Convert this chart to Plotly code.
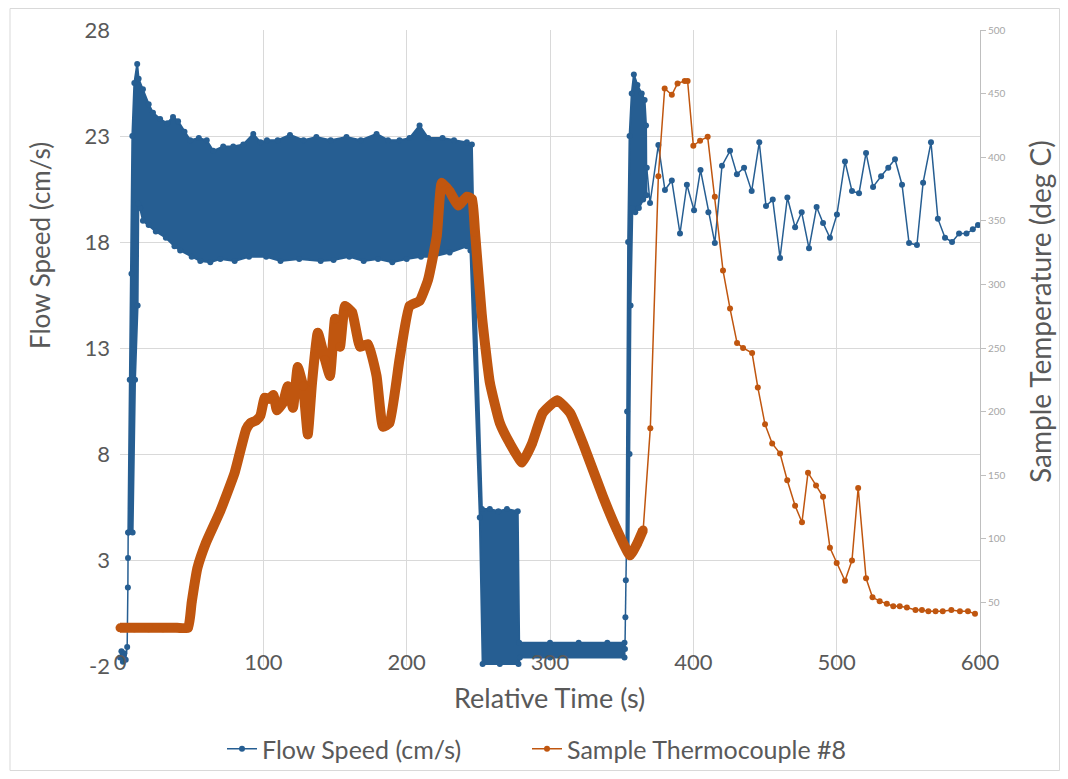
import plotly.graph_objects as go

BLUE = "#265E92"
ORANGE = "#C0560F"
GRID = "#d9d9d9"
TXT = "#595959"
FONT = "Lato"

# ---------------- Flow speed (cm/s), left axis ----------------
# sparse points at the very start (before the flow turns on)
flow_start_t = [0, 1, 2, 3, 4, 5, 5.5, 5.6, 5.7]
flow_start_v = [-1.6, -1.3, -1.8, -1.4, -1.7, -1.1, 1.7, 3.1, 4.3]

# dense oscillating region 6-352 s: upper envelope (left to right)
dense_top_t = [5.8, 6.8, 8.0, 8.6, 10, 12, 13, 16, 20, 23, 28, 33, 37, 40.5, 45, 49, 55,
               60.5, 65, 72, 79, 86, 93, 98, 102.5, 110, 118.6, 128, 137, 147, 158, 168,
               179, 187, 195, 202, 209, 215, 225, 233, 242, 245.5, 247, 252.5, 258, 264,
               270, 277.5, 278.5, 300, 320, 340, 352]
dense_top_v = [4.3, 11.5, 16.5, 23, 25.5, 26.4, 25.7, 25.2, 24.5, 24.1, 23.8, 23.6, 23.9,
               23.7, 23.2, 22.8, 22.9, 22.8, 22.3, 22.5, 22.5, 22.6, 23.1, 22.7, 22.8, 22.8,
               23.05, 22.8, 22.95, 22.8, 22.95, 22.8, 23.1, 22.8, 22.8, 22.9, 23.5, 22.9,
               22.9, 22.8, 22.7, 22.6, 17.6, 5.4, 5.4, 5.3, 5.4, 5.3, -0.9, -0.9, -0.9,
               -0.9, -0.9]
# dense region: lower envelope (right to left)
dense_bot_t = [352, 300, 279, 278, 265, 253, 251, 244.5, 242, 230, 218, 210, 200, 190,
               180, 170, 160, 149, 140, 125, 112, 102, 90, 80, 70, 63, 56, 50, 42, 38, 32,
               25, 20, 16, 14, 12.8, 12.3, 10.5, 8.8]
dense_bot_v = [-1.6, -1.6, -1.6, -1.9, -1.9, -1.9, 5.0, 17.6, 17.8, 17.5, 17.3, 17.3,
               17.2, 17.05, 17.2, 17.1, 17.3, 17.15, 17.1, 17.2, 17.1, 17.3, 17.3, 17.1,
               17.2, 17.05, 17.1, 17.3, 17.6, 17.8, 18.2, 18.5, 18.8, 19.0, 19.6, 19.8,
               15, 11.5, 4.3]

# isolated points while the flow restarts
flow_mid_t = [352.3, 352.6, 352.9, 353.3]
flow_mid_v = [-1.2, 0.3, 2.05, 3.5]

# dense burst when the flow restarts (353-368 s)
col_top_t = [353.3, 353.8, 354.5, 355.5, 357, 358.5, 361, 364, 366, 367]
col_top_v = [3.5, 10, 18, 23, 25.0, 25.9, 25.4, 25.0, 24.7, 23.5]
col_bot_t = [367.3, 365, 362, 359.5, 357.5, 356.2, 355.5, 354.8]
col_bot_v = [20.2, 20.0, 19.6, 19.4, 19.6, 15, 8, 3.5]

# sparse samples after 368 s
flow_end_t = [367.5, 369.8, 375.6, 380.2, 385, 390.7, 395.5, 400.5, 405, 410.5, 415, 420,
              425.6, 430.4, 435.4, 440.7, 446, 450.7, 455.4, 460.5, 465.6, 471, 475.6,
              480.7, 486, 490.5, 495.3, 500.2, 505.8, 510.7, 515.6, 520.5, 525.4, 531,
              536, 540.7, 545.6, 550.5, 556, 560.3, 565.8, 570.6, 575.6, 580.5, 585.4,
              590.6, 595, 598.6]
flow_end_v = [21.5, 19.84, 22.58, 20.45, 20.9, 18.4, 20.7, 19.5, 21.4, 19.4, 17.95, 21.6,
              22.3, 21.2, 21.5, 20.4, 22.7, 19.7, 20.0, 17.25, 20.1, 18.7, 19.4, 17.7,
              19.65, 18.9, 18.2, 19.3, 21.8, 20.4, 20.3, 22.2, 20.6, 21.1, 21.5, 21.9,
              20.7, 17.95, 17.86, 20.8, 22.7, 19.1, 18.2, 18.0, 18.4, 18.4, 18.6, 18.8]

# ---------------- Sample thermocouple #8 (deg C), right axis ----------------
temp_dense_t = [0, 10, 20, 30, 40, 47.5, 50, 54, 60, 70, 80, 88, 91, 95, 98, 101, 104,
                107, 109.5, 113.7, 117, 120.7, 124, 127.7, 131, 134, 138, 143, 146.5, 150,
                153.5, 157, 162, 167.5, 173, 179, 183.5, 188, 195, 202, 209, 215, 221,
                224.5, 230, 236, 242, 245.6, 247.7, 252.5, 258, 265, 272, 280.5, 287.5,
                295, 305, 314, 323, 337, 346.7, 355.8, 360.7, 365]
temp_dense_v = [30, 30, 30, 30, 30, 30, 50, 77, 97, 122, 152, 186, 191, 193, 197, 211, 210,
                213, 201, 207, 220, 203, 235, 220, 182, 223, 262, 241, 228, 273, 251, 283,
                278, 251, 253, 228, 188, 191, 241, 283, 287, 304, 338, 380, 373, 362, 369,
                367, 341, 275, 223, 191, 175, 160, 175, 199, 209, 199, 175, 133, 107, 87,
                96, 107]

temp_sparse_t = [365, 370, 375.6, 380, 385, 389, 394, 396, 400, 404.7, 410, 415, 420.7,
                 425.6, 430.5, 434.7, 441, 445, 450, 455, 460.5, 465.5, 471, 475.8, 480,
                 485.6, 490.5, 495.3, 500, 505.8, 510.7, 515, 520.5, 525, 530, 535, 539.5,
                 544, 549, 555, 559.5, 564, 569, 574, 580, 586, 591.6, 596.5]
temp_sparse_v = [107, 187, 385, 454, 449, 458, 460, 460, 409, 413, 416, 369, 311, 281, 254,
                 250, 246, 219, 190, 175, 167, 146, 126, 113, 152, 142, 133, 93, 81, 67, 83,
                 140, 69, 54, 51, 49, 47, 47, 46, 44, 44, 43, 43, 43, 44, 43, 43, 41]

left_ticks = [-2, 3, 8, 13, 18, 23, 28]
right_ticks = [50, 100, 150, 200, 250, 300, 350, 400, 450, 500]
x_ticks = [0, 100, 200, 300, 400, 500, 600]

fig = go.Figure()

# dense flow band
fig.add_trace(go.Scatter(
    x=dense_top_t + dense_bot_t, y=dense_top_v + dense_bot_v,
    mode="lines+markers", fill="toself", fillcolor=BLUE,
    line=dict(color=BLUE, width=2), marker=dict(color=BLUE, size=6),
    showlegend=False, hoverinfo="skip", cliponaxis=False))
fig.add_trace(go.Scatter(
    x=col_top_t + col_bot_t, y=col_top_v + col_bot_v,
    mode="lines+markers", fill="toself", fillcolor=BLUE,
    line=dict(color=BLUE, width=2), marker=dict(color=BLUE, size=6),
    showlegend=False, hoverinfo="skip"))
fig.add_trace(go.Scatter(
    x=flow_start_t, y=flow_start_v, mode="lines+markers",
    line=dict(color=BLUE, width=1.5), marker=dict(color=BLUE, size=6),
    showlegend=False, cliponaxis=False))
fig.add_trace(go.Scatter(
    x=flow_mid_t, y=flow_mid_v, mode="lines+markers",
    line=dict(color=BLUE, width=1.5), marker=dict(color=BLUE, size=6),
    showlegend=False))
fig.add_trace(go.Scatter(
    x=flow_end_t, y=flow_end_v, mode="lines+markers", name="Flow Speed (cm/s)",
    line=dict(color=BLUE, width=1.5), marker=dict(color=BLUE, size=6),
    legend="legend"))

# temperature
fig.add_trace(go.Scatter(
    x=temp_dense_t, y=temp_dense_v, yaxis="y2", mode="lines+markers",
    line=dict(color=ORANGE, width=10, shape="spline", smoothing=0.4),
    marker=dict(color=ORANGE, size=9),
    showlegend=False, cliponaxis=False))
fig.add_trace(go.Scatter(
    x=temp_sparse_t, y=temp_sparse_v, yaxis="y2", mode="lines+markers",
    name="Sample Thermocouple #8",
    line=dict(color=ORANGE, width=1.5), marker=dict(color=ORANGE, size=6),
    legend="legend2"))

# page has an 8px body margin: figure occupies page x 8..1060, y 8..771
OFF = 8
W, H = 1052, 763
L, R, T, B = 120, 980, 30, 666  # plot area in page pixels


def px(xp):
    return (xp - L) / (R - L)


def py(yp):
    return (B - yp) / (B - T)


legend_common = dict(orientation="h", xanchor="left", y=py(749), yanchor="middle",
                     font=dict(size=25, color=TXT), itemwidth=30,
                     bgcolor="rgba(0,0,0,0)")

fig.update_layout(
    width=W, height=H,
    margin=dict(l=L - OFF, r=W - (R - OFF), t=T - OFF, b=H - (B - OFF),
                autoexpand=False),
    paper_bgcolor="white", plot_bgcolor="white",
    font=dict(family=FONT, color=TXT),
    xaxis=dict(range=[0, 600], tickvals=x_ticks, showgrid=True, gridcolor=GRID,
               gridwidth=1, zeroline=False, showline=False, ticks="", automargin=False,
               tickfont=dict(size=22, color=TXT), ticklabelstandoff=-19),
    yaxis=dict(range=[-2, 28], tickvals=left_ticks,
               ticktext=[str(v) for v in left_ticks], showgrid=True, gridcolor=GRID,
               gridwidth=1, zeroline=False, showline=False, ticks="", automargin=False,
               tickfont=dict(size=22, color=TXT), ticklabelstandoff=9),
    yaxis2=dict(range=[0, 500], tickvals=right_ticks, overlaying="y", side="right",
                showgrid=False, zeroline=False, showline=True, linecolor="#bfbfbf",
                ticks="outside", ticklen=5, tickcolor="#bfbfbf", automargin=False,
                tickfont=dict(size=10, color="#a6a6a6")),
    legend=dict(x=px(222), **legend_common),
    legend2=dict(x=px(527), **legend_common),
    shapes=[dict(type="rect", xref="paper", yref="paper", x0=px(10), x1=px(1059.5),
                 y0=py(770.5), y1=py(8.5), line=dict(color=GRID, width=1),
                 layer="below")],
    annotations=[
        dict(text="Flow Speed (cm/s)", xref="paper", yref="paper", x=px(40), y=py(246),
             xanchor="center", yanchor="middle", textangle=-90, showarrow=False,
             font=dict(size=26, color=TXT)),
        dict(text="Relative Time (s)", xref="paper", yref="paper", x=px(549), y=py(697),
             xanchor="center", yanchor="middle", showarrow=False,
             font=dict(size=27, color=TXT)),
        dict(text="Sample Temperature (deg C)", xref="paper", yref="paper", x=px(1040),
             y=py(312), xanchor="center", yanchor="middle", textangle=-90,
             showarrow=False, font=dict(size=28, color=TXT)),
    ],
)

fig.write_html("out.html")
